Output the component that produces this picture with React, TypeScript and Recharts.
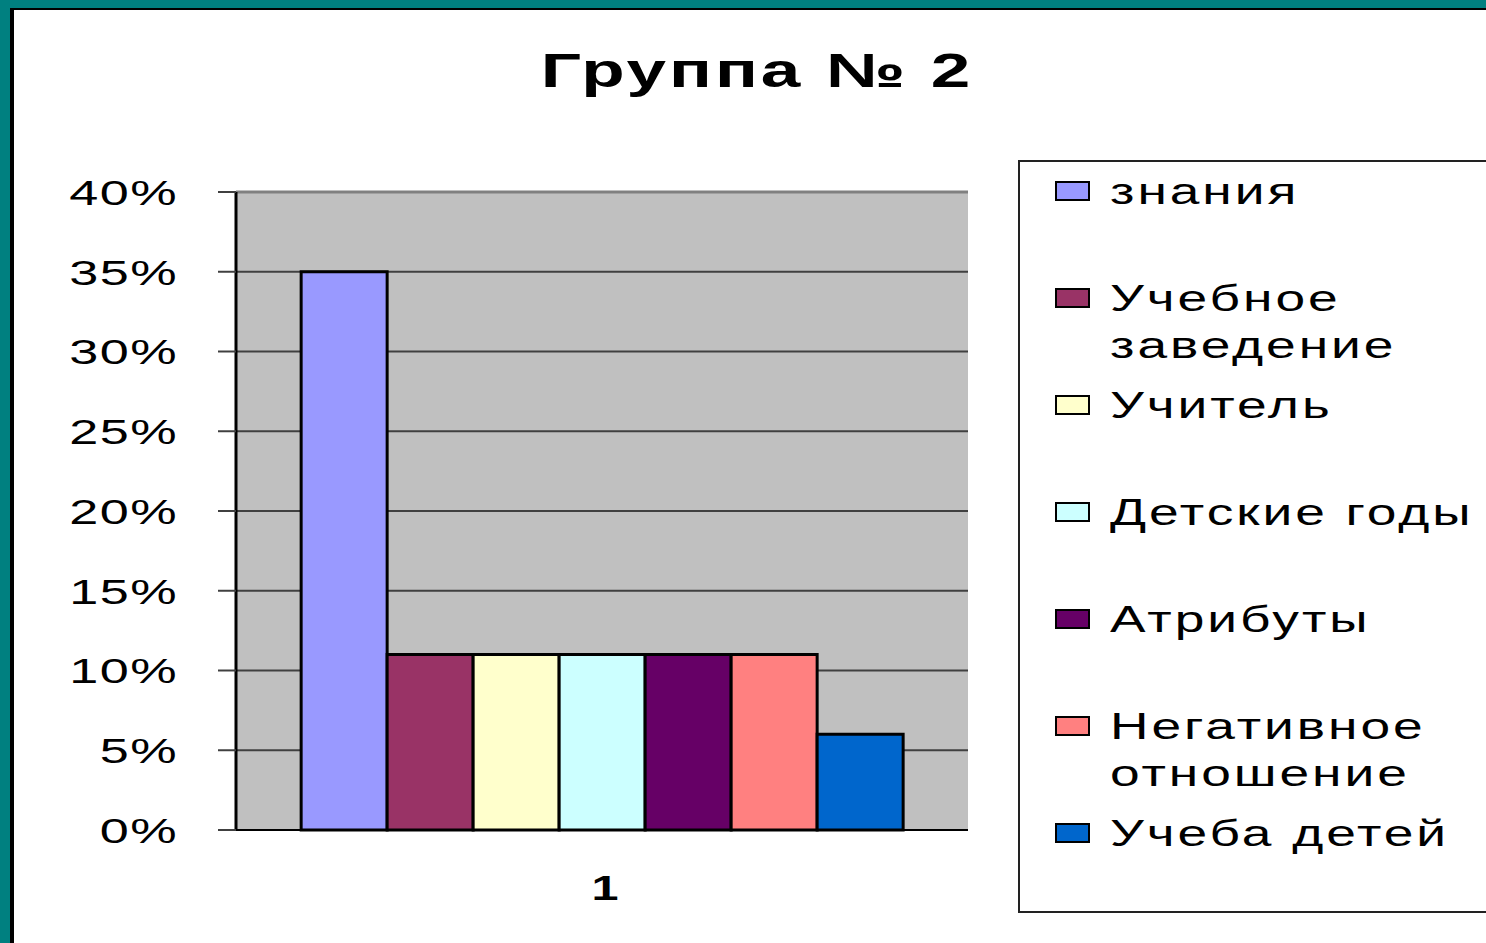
import { BarChart, Bar, XAxis, YAxis, CartesianGrid, ReferenceLine } from "recharts";

const categories = ["1"];
const seriesNames = [
  "знания",
  "Учебное заведение",
  "Учитель",
  "Детские годы",
  "Атрибуты",
  "Негативное отношение",
  "Учеба детей",
];
const seriesValues = [35, 11, 11, 11, 11, 11, 6];
const seriesColors = ["#9999FF", "#993366", "#FFFFCC", "#CCFFFF", "#660066", "#FF8080", "#0066CC"];
const yTicks = [0, 5, 10, 15, 20, 25, 30, 35, 40];
const title = "Группа № 2";

const data = categories.map((name) => {
  const row: Record<string, string | number> = { name };
  seriesNames.forEach((_, i) => {
    row["s" + i] = seriesValues[i];
  });
  return row;
});

const FONT = '"Liberation Sans", Arial, sans-serif';

function YTick(props: any) {
  const { x, y, payload } = props;
  return (
    <g transform={`translate(${x},${y}) scale(1.45,1)`}>
      <text x={0} y={0} dy="0.36em" textAnchor="end" fontFamily={FONT} fontSize={36} letterSpacing={1} fill="#000">
        {payload.value + "%"}
      </text>
    </g>
  );
}

function XTick(props: any) {
  const { x, payload } = props;
  return (
    <g transform={`translate(${x + 3},887) scale(1.35,1)`}>
      <text x={0} y={0} dy="0.36em" textAnchor="middle" fontFamily={FONT} fontSize={36} fontWeight="bold" fill="#000">
        {payload.value}
      </text>
    </g>
  );
}

function ChartLegend() {
  return (
    <div
      style={{
        position: "absolute",
        left: 1018,
        top: 160,
        width: 520,
        height: 753,
        border: "2px solid #222",
        boxSizing: "border-box",
        paddingTop: 6,
        fontFamily: FONT,
      }}
    >
      {seriesNames.map((name, i) => (
        <div key={name} style={{ position: "relative", height: 107 }}>
          <div
            style={{
              position: "absolute",
              left: 35,
              top: 13,
              width: 35,
              height: 20,
              boxSizing: "border-box",
              border: "2.5px solid #000",
              background: seriesColors[i],
            }}
          />
          <div
            style={{
              position: "absolute",
              left: 90,
              top: 0,
              width: 290,
              fontSize: 36,
              lineHeight: "47px",
              letterSpacing: 2,
              color: "#000",
              transform: "scaleX(1.48)",
              transformOrigin: "left top",
            }}
          >
            {name}
          </div>
        </div>
      ))}
    </div>
  );
}

export default function App() {
  return (
    <div
      style={{
        position: "absolute",
        left: 0,
        top: 0,
        width: 1486,
        height: 943,
        overflow: "hidden",
        background: "#008080",
      }}
    >
      <div
        style={{
          position: "absolute",
          left: 10,
          top: 8,
          width: 1600,
          height: 1000,
          background: "#fff",
          borderLeft: "4px solid #000",
          borderTop: "2px solid #000",
        }}
      />
      <div
        style={{
          position: "absolute",
          left: 0,
          top: 47,
          width: 1514,
          textAlign: "center",
          fontFamily: FONT,
          fontWeight: "bold",
          fontSize: 48,
          lineHeight: "48px",
          letterSpacing: 2,
          color: "#000",
          transform: "scaleX(1.48)",
          transformOrigin: "757px 0",
          whiteSpace: "nowrap",
        }}
      >
        {title}
      </div>
      <div style={{ position: "absolute", left: 0, top: 0 }}>
        <BarChart
          width={1486}
          height={943}
          data={data}
          margin={{ top: 192, right: 518, bottom: 53, left: 0 }}
          barCategoryGap="8.9%"
          barGap={0}
        >
          <CartesianGrid vertical={false} fill="#C0C0C0" stroke="#404040" strokeWidth={2} strokeOpacity={1} />
          <XAxis
            dataKey="name"
            height={60}
            axisLine={{ stroke: "#000", strokeWidth: 2 }}
            tickLine={false}
            tick={<XTick />}
          />
          <YAxis
            width={236}
            domain={[0, 40]}
            ticks={yTicks}
            interval={0}
            axisLine={{ stroke: "#000", strokeWidth: 3 }}
            tickLine={{ stroke: "#404040", strokeWidth: 2 }}
            tickSize={18}
            tickMargin={40}
            tick={<YTick />}
          />
          <YAxis
            yAxisId="right"
            orientation="right"
            width={0}
            tick={false}
            tickLine={false}
            axisLine={{ stroke: "#808080", strokeWidth: 3 }}
          />
          <ReferenceLine y={40} stroke="#808080" strokeWidth={3} />
          {seriesNames.map((name, i) => (
            <Bar
              key={name}
              dataKey={"s" + i}
              name={name}
              fill={seriesColors[i]}
              stroke="#000"
              strokeWidth={3}
              isAnimationActive={false}
            />
          ))}
        </BarChart>
      </div>
      <ChartLegend />
    </div>
  );
}
